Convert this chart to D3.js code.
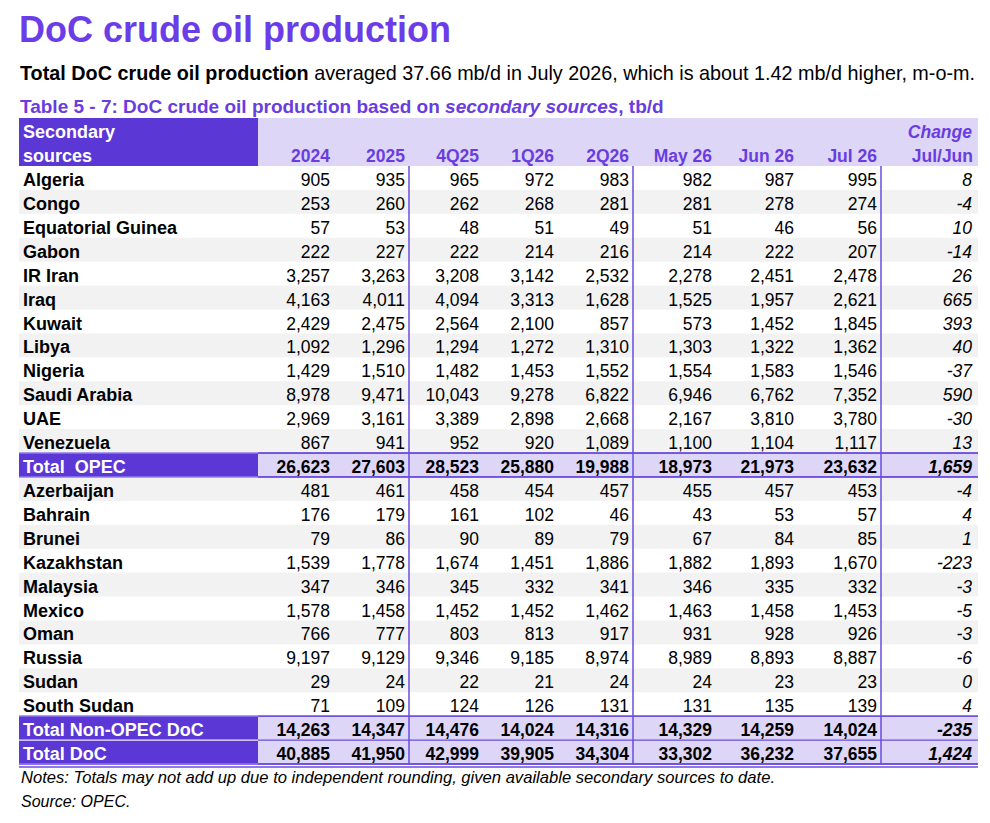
<!DOCTYPE html>
<html>
<head>
<meta charset="utf-8">
<script src="https://cdn.jsdelivr.net/npm/d3@7"></script>
<style>
  body { margin: 0; background: #fff; }
  svg { font-family: "Liberation Sans", Arial, sans-serif; display: block; }
  text { white-space: pre; }
</style>
</head>
<body>
<script>
// colonnes du tableau
const columns = ["2024", "2025", "4Q25", "1Q26", "2Q26", "May 26", "Jun 26", "Jul 26", "Jul/Jun"];

// pays OPEC
const opecCountries = ["Algeria", "Congo", "Equatorial Guinea", "Gabon", "IR Iran", "Iraq", "Kuwait",
  "Libya", "Nigeria", "Saudi Arabia", "UAE", "Venezuela"];
const opecValues = [
  [905, 935, 965, 972, 983, 982, 987, 995, 8],
  [253, 260, 262, 268, 281, 281, 278, 274, -4],
  [57, 53, 48, 51, 49, 51, 46, 56, 10],
  [222, 227, 222, 214, 216, 214, 222, 207, -14],
  [3257, 3263, 3208, 3142, 2532, 2278, 2451, 2478, 26],
  [4163, 4011, 4094, 3313, 1628, 1525, 1957, 2621, 665],
  [2429, 2475, 2564, 2100, 857, 573, 1452, 1845, 393],
  [1092, 1296, 1294, 1272, 1310, 1303, 1322, 1362, 40],
  [1429, 1510, 1482, 1453, 1552, 1554, 1583, 1546, -37],
  [8978, 9471, 10043, 9278, 6822, 6946, 6762, 7352, 590],
  [2969, 3161, 3389, 2898, 2668, 2167, 3810, 3780, -30],
  [867, 941, 952, 920, 1089, 1100, 1104, 1117, 13]
];
const totalOpec = [26623, 27603, 28523, 25880, 19988, 18973, 21973, 23632, 1659];

// pays non-OPEC
const nonOpecCountries = ["Azerbaijan", "Bahrain", "Brunei", "Kazakhstan", "Malaysia", "Mexico",
  "Oman", "Russia", "Sudan", "South Sudan"];
const nonOpecValues = [
  [481, 461, 458, 454, 457, 455, 457, 453, -4],
  [176, 179, 161, 102, 46, 43, 53, 57, 4],
  [79, 86, 90, 89, 79, 67, 84, 85, 1],
  [1539, 1778, 1674, 1451, 1886, 1882, 1893, 1670, -223],
  [347, 346, 345, 332, 341, 346, 335, 332, -3],
  [1578, 1458, 1452, 1452, 1462, 1463, 1458, 1453, -5],
  [766, 777, 803, 813, 917, 931, 928, 926, -3],
  [9197, 9129, 9346, 9185, 8974, 8989, 8893, 8887, -6],
  [29, 24, 22, 21, 24, 24, 23, 23, 0],
  [71, 109, 124, 126, 131, 131, 135, 139, 4]
];
const totalNonOpec = [14263, 14347, 14476, 14024, 14316, 14329, 14259, 14024, -235];
const totalDoc = [40885, 41950, 42999, 39905, 34304, 33302, 36232, 37655, 1424];

// couleurs
const purple = "#5b37d6", lavender = "#ddd6f6", stripe = "#f2f2f2",
      headColor = "#6a3de0", lineColor = "#6a4be0";

// lignes du tableau
const rows = [];
opecCountries.forEach((c, i) => rows.push({ name: c, values: opecValues[i], type: "row", stripe: i % 2 === 1 }));
rows.push({ name: "Total  OPEC", values: totalOpec, type: "total" });
nonOpecCountries.forEach((c, i) => rows.push({ name: c, values: nonOpecValues[i], type: "row", stripe: i % 2 === 0 }));
rows.push({ name: "Total Non-OPEC DoC", values: totalNonOpec, type: "total" });
rows.push({ name: "Total DoC", values: totalDoc, type: "total" });

const W = 990, H = 823;
const left = 19, right = 978, labelW = 239;
const svg = d3.select("body").append("svg").attr("width", W).attr("height", H);

// titres
svg.append("text").attr("x", 19).attr("y", 42).attr("font-size", 36).attr("font-weight", "bold")
  .attr("fill", "#6a3de8").text("DoC crude oil production");

const sub = svg.append("text").attr("x", 20).attr("y", 80).attr("font-size", 19.8).attr("fill", "#000");
sub.append("tspan").attr("font-weight", "bold").text("Total DoC crude oil production");
sub.append("tspan").text(" averaged 37.66 mb/d in July 2026, which is about 1.42 mb/d higher, m-o-m.");

const cap = svg.append("text").attr("x", 20).attr("y", 113).attr("font-size", 19)
  .attr("font-weight", "bold").attr("fill", headColor);
cap.append("tspan").text("Table 5 - 7: DoC crude oil production based on ");
cap.append("tspan").attr("font-style", "italic").text("secondary sources");
cap.append("tspan").text(", tb/d");

// échelles
const y = d3.scaleBand().domain(d3.range(rows.length)).range([166, 764]);
const colW = [72, 75, 74, 75, 75, 83, 82, 83, 95];
const colRight = d3.cumsum(colW).map(v => left + labelW + v);
const x = d3.scaleOrdinal().domain(columns).range(colRight);
const fmt = d3.formatLocale({ decimal: ".", thousands: ",", grouping: [3], currency: ["", ""], minus: "-" }).format(",");

// en-tête
svg.append("rect").attr("x", left + labelW).attr("y", 118).attr("width", right - left - labelW).attr("height", 48).attr("fill", lavender);
svg.append("rect").attr("x", left).attr("y", 118).attr("width", labelW).attr("height", 48).attr("fill", purple);
svg.append("text").attr("x", 23).attr("y", 138).attr("font-size", 18).attr("font-weight", "bold").attr("fill", "#fff").text("Secondary");
svg.append("text").attr("x", 23).attr("y", 162).attr("font-size", 18).attr("font-weight", "bold").attr("fill", "#fff").text("sources");
svg.selectAll(".colhead").data(columns).enter().append("text").attr("class", "colhead")
  .attr("x", d => x(d) - (d === "Jul/Jun" ? -1 : 0)).attr("y", 162).attr("text-anchor", "end")
  .attr("font-size", 17.5).attr("font-weight", "bold").attr("fill", headColor).text(d => d);
svg.append("text").attr("x", x("Jul/Jun")).attr("y", 138).attr("text-anchor", "end").attr("font-size", 17.5)
  .attr("font-weight", "bold").attr("font-style", "italic").attr("fill", headColor).text("Change");

// fonds des lignes
const g = svg.selectAll(".row").data(rows).enter().append("g").attr("class", "row")
  .attr("transform", (d, i) => `translate(0,${y(i)})`);

g.filter(d => d.type === "row" && d.stripe).append("rect")
  .attr("x", left).attr("width", right - left).attr("height", y.bandwidth()).attr("fill", stripe);
g.filter(d => d.type === "total").append("rect")
  .attr("x", left + labelW).attr("width", right - left - labelW).attr("height", y.bandwidth()).attr("fill", lavender);
g.filter(d => d.type === "total").append("rect")
  .attr("x", left).attr("width", labelW).attr("height", y.bandwidth()).attr("fill", purple);

// noms
g.append("text").attr("x", 23).attr("y", 20).attr("font-size", 18).attr("font-weight", "bold")
  .attr("fill", d => d.type === "total" ? "#fff" : "#000").text(d => d.name);

// valeurs
g.selectAll(".val").data(d => d.values.map((v, j) => ({ v, col: columns[j], total: d.type === "total" })))
  .enter().append("text").attr("class", "val")
  .attr("x", d => x(d.col)).attr("y", 20).attr("text-anchor", "end").attr("font-size", 17.5)
  .attr("font-weight", d => d.total ? "bold" : "normal")
  .attr("font-style", d => d.col === "Jul/Jun" ? "italic" : "normal")
  .attr("fill", "#000").text(d => fmt(d.v));

// lignes horizontales autour des totaux
const hLines = [];
rows.forEach((r, i) => {
  if (r.type === "total") { hLines.push(y(i)); hLines.push(y(i) + y.bandwidth()); }
});
const uniq = Array.from(new Set(hLines.map(v => Math.round(v * 10) / 10)));
uniq.forEach(v => {
  svg.append("line").attr("x1", left).attr("x2", left + labelW).attr("y1", v).attr("y2", v)
    .attr("stroke", "#efeaff").attr("stroke-width", 1.3);
  svg.append("line").attr("x1", left + labelW).attr("x2", right).attr("y1", v).attr("y2", v)
    .attr("stroke", lineColor).attr("stroke-width", 1.3);
});
// lignes violettes sur toute la largeur
[12, 13, 23].forEach(i => svg.append("line").attr("x1", left).attr("x2", right).attr("y1", y(i)).attr("y2", y(i))
  .attr("stroke", lineColor).attr("stroke-width", 1.3));

// double ligne du bas
[764, 767].forEach(v => svg.append("line").attr("x1", left).attr("x2", right).attr("y1", v).attr("y2", v)
  .attr("stroke", lineColor).attr("stroke-width", 1.3));

// lignes verticales
["2025", "2Q26", "Jul 26"].forEach(c => {
  const xx = x(c) + 4;
  svg.append("line").attr("x1", xx).attr("x2", xx).attr("y1", 166).attr("y2", 764)
    .attr("stroke", lineColor).attr("stroke-width", 1.5);
});

// notes
svg.append("text").attr("x", 21).attr("y", 783).attr("font-size", 16.6).attr("font-style", "italic")
  .text("Notes: Totals may not add up due to independent rounding, given available secondary sources to date.");
svg.append("text").attr("x", 21).attr("y", 807).attr("font-size", 16).attr("font-style", "italic")
  .text("Source: OPEC.");
</script>
</body>
</html>
